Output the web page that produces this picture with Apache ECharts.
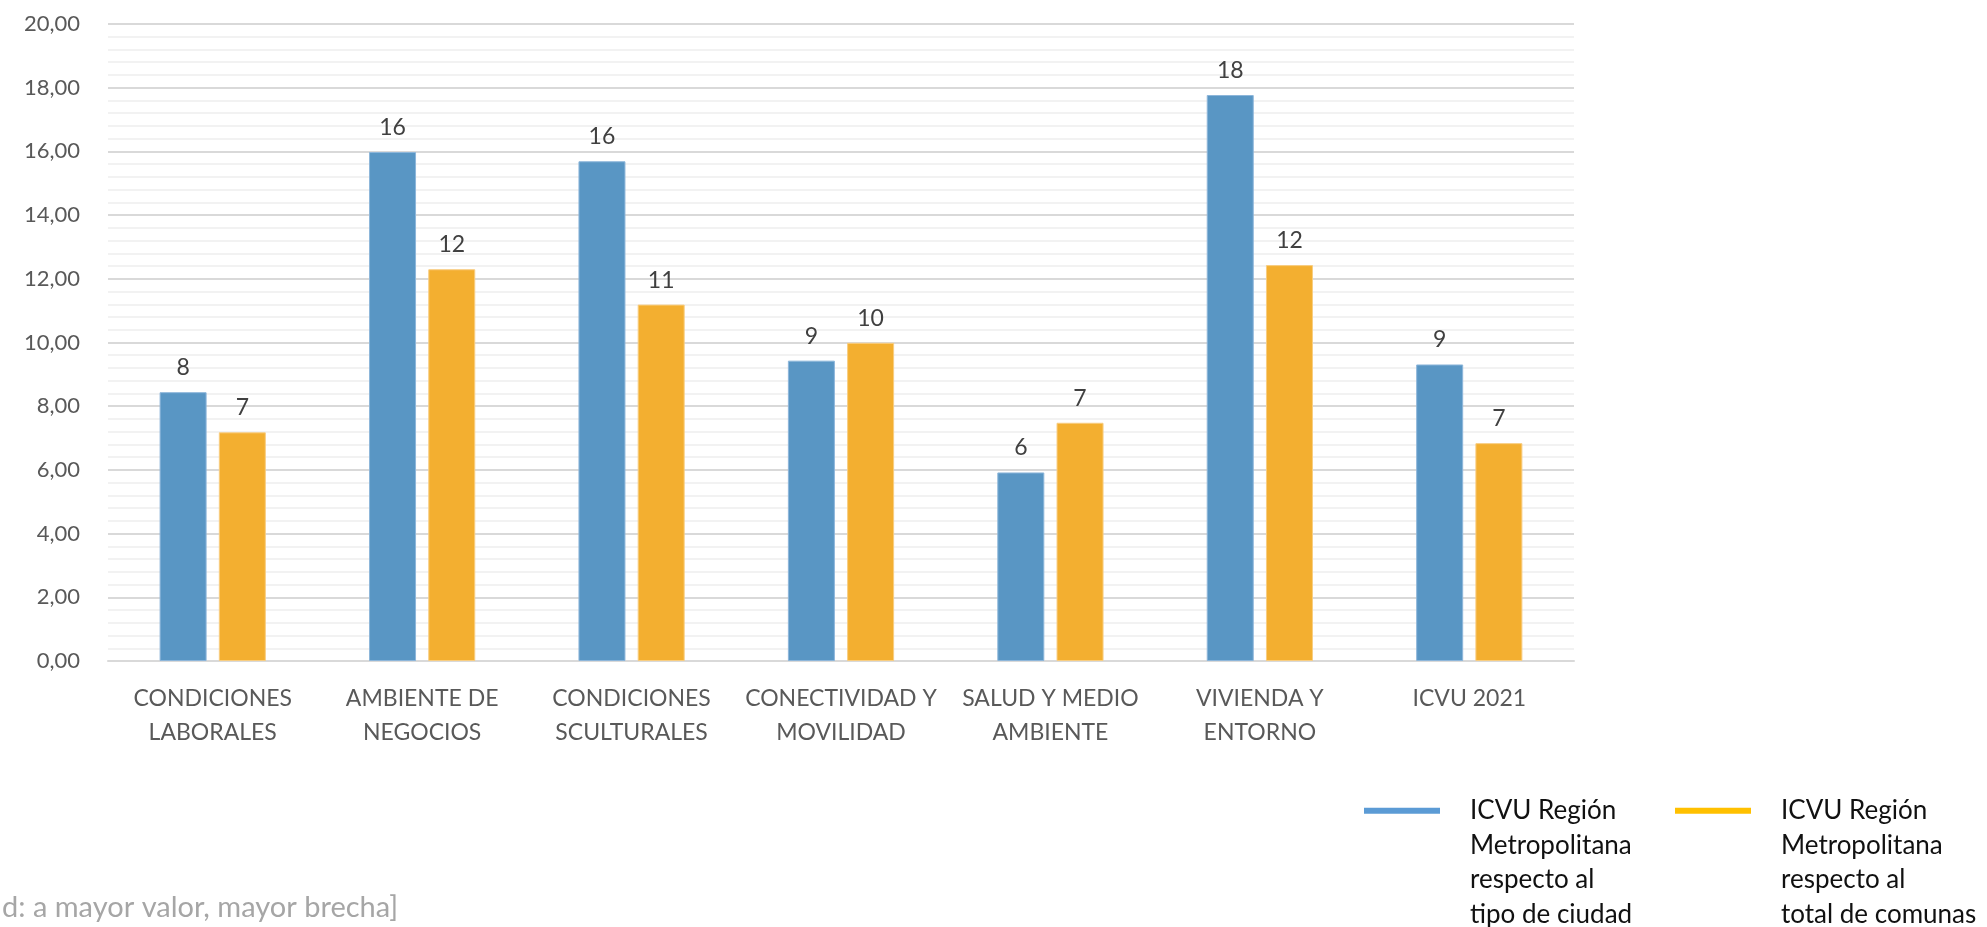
<!DOCTYPE html>
<html>
<head>
<meta charset="utf-8">
<script src="https://cdn.jsdelivr.net/npm/echarts@6/dist/echarts.min.js"></script>
<style>
  html, body { margin: 0; padding: 0; background: #fff; }
  #chart { width: 1987px; height: 927px; }
</style>
</head>
<body>
<div id="chart"></div>
<script>
// categorias del eje x
var categories = [
  'CONDICIONES\nLABORALES',
  'AMBIENTE DE\nNEGOCIOS',
  'CONDICIONES\nSCULTURALES',
  'CONECTIVIDAD Y\nMOVILIDAD',
  'SALUD Y MEDIO\nAMBIENTE',
  'VIVIENDA Y\nENTORNO',
  'ICVU 2021'
]
var seriesNames = [
  'ICVU Región\nMetropolitana\nrespecto al\ntipo de ciudad',
  'ICVU Región\nMetropolitana\nrespecto al\ntotal de comunas'
]
// valores
var tipoCiudad = [8.44, 15.98, 15.69, 9.43, 5.92, 17.77, 9.31]
var totalComunas = [7.18, 12.30, 11.19, 9.99, 7.48, 12.43, 6.84]
var noteText = 'd: a mayor valor, mayor brecha]'

var FONT = 'Lato, "Open Sans", sans-serif'
var chart = echarts.init(document.getElementById('chart'))

function legendFor(i, left, color) {
  return {
    data: [seriesNames[i]],
    left: left,
    top: 690,
    padding: 0,
    icon: 'rect',
    itemWidth: 76,
    itemHeight: 6,
    selectedMode: false,
    itemStyle: { color: color, borderWidth: 0 },
    // lineas vacias arriba para que el icono quede en la primera linea
    formatter: function (name) { return '\n\n\n' + name },
    textStyle: {
      fontFamily: FONT,
      fontSize: 26,
      lineHeight: 34.5,
      color: '#111',
      padding: [0, 0, 0, 25]
    }
  }
}

chart.setOption({
  backgroundColor: '#fff',
  animation: false,
  grid: { left: 108, right: 413, top: 24, bottom: 266 },
  legend: [
    legendFor(0, 1364, '#5B9BD5'),
    legendFor(1, 1675, '#FFC000')
  ],
  xAxis: {
    type: 'category',
    data: categories,
    axisTick: { show: false },
    axisLine: { show: true, lineStyle: { color: '#D9D9D9', width: 2 } },
    axisLabel: {
      interval: 0,
      margin: 21,
      fontFamily: FONT,
      fontSize: 23,
      lineHeight: 34,
      color: '#595959'
    }
  },
  yAxis: {
    type: 'value',
    min: 0,
    max: 20,
    interval: 2,
    axisLine: { show: false },
    axisTick: { show: false },
    axisLabel: {
      margin: 28,
      fontFamily: FONT,
      fontSize: 22,
      color: '#595959',
      formatter: function (v) { return v.toFixed(2).replace('.', ',') }
    },
    splitLine: { lineStyle: { color: '#D9D9D9', width: 2 } },
    minorTick: { show: false, splitNumber: 5 },
    minorSplitLine: { show: true, lineStyle: { color: '#F2F2F2', width: 2 } }
  },
  series: [
    { // -------- azul --------
      name: seriesNames[0],
      type: 'bar',
      data: tipoCiudad,
      barWidth: 47,
      barGap: '26%',
      itemStyle: { color: '#5996C4', borderColor: '#8DB6DA', borderWidth: 1 },
      label: {
        show: true,
        position: 'top',
        distance: 13,
        fontFamily: FONT,
        fontSize: 23,
        color: '#404040',
        formatter: function (p) { return Math.round(p.value) }
      }
    },
    { // -------- naranjo --------
      name: seriesNames[1],
      type: 'bar',
      data: totalComunas,
      barWidth: 47,
      itemStyle: { color: '#F3AF30', borderColor: '#F8CD80', borderWidth: 1 },
      label: {
        show: true,
        position: 'top',
        distance: 13,
        fontFamily: FONT,
        fontSize: 23,
        color: '#404040',
        formatter: function (p) { return Math.round(p.value) }
      }
    }
  ],
  graphic: [{
    type: 'text',
    left: 2,
    top: 893,
    style: {
      text: noteText,
      fontFamily: FONT,
      fontSize: 29,
      fill: '#A6A6A6'
    }
  }]
})
</script>
</body>
</html>
